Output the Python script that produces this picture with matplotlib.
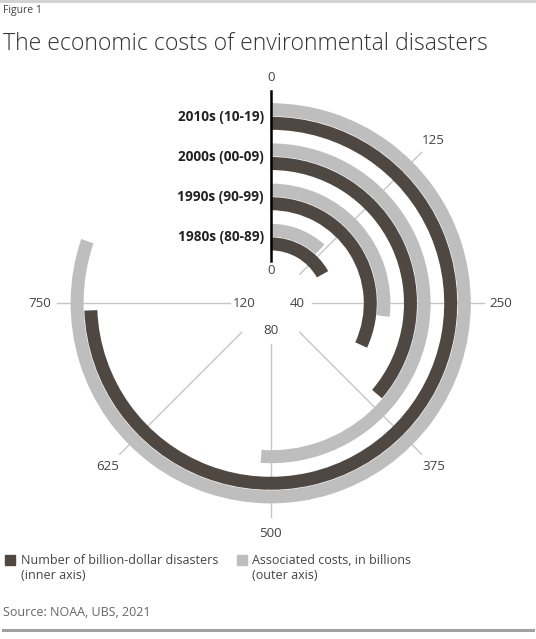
import numpy as np
import matplotlib.pyplot as plt
from matplotlib.patches import Rectangle

# data
decades = ['1980s (80-89)', '1990s (90-99)', '2000s (00-09)', '2010s (10-19)']
disasters = [27, 51, 58, 119]        # inner axis, full circle = 160
costs = [118, 268, 510, 802]         # outer axis, bn USD, full circle = 1000
inner_ticks = [0, 40, 80, 120]
outer_ticks = [0, 125, 250, 375, 500, 625, 750]
INNER_MAX = 160
OUTER_MAX = 1000

DARK = '#4f4842'
LIGHT = '#bebebe'
GRID = '#c6c6c6'
TXT = '#444444'

plt.rcParams['font.family'] = ['Open Sans', 'DejaVu Sans']

W, H = 536, 639
fig = plt.figure(figsize=(W / 100, H / 100), dpi=100)

# polar axes in pixel units: centre and radius
cx, cy, R = 270.7, 303.3, 240
ax = fig.add_axes([(cx - R) / W, (H - cy - R) / H, 2 * R / W, 2 * R / H], projection='polar')
ax.set_theta_zero_location('N')
ax.set_theta_direction(-1)
ax.set_ylim(0, R)
ax.set_axis_off()

# grid spokes
for t in outer_ticks[1:]:
    th = 2 * np.pi * t / OUTER_MAX
    ax.plot([th, th], [41, 213.5], color=GRID, lw=1, zorder=1)
ax.plot([0, 0], [42, 212.6], color='black', lw=1.8, zorder=5)

# bars
bw = 13
for i, (n, c) in enumerate(zip(disasters, costs)):
    r_gray = 73 + 40.2 * i
    r_dark = r_gray - 13.6
    ax.bar(0, bw, width=2 * np.pi * c / OUTER_MAX, bottom=r_gray - bw / 2,
           align='edge', color=LIGHT, lw=0, zorder=2)
    ax.bar(0, bw, width=2 * np.pi * n / INNER_MAX, bottom=r_dark - bw / 2,
           align='edge', color=DARK, lw=0, zorder=3)
    ax.annotate(decades[i], (0, (r_gray + r_dark) / 2), xytext=(-5, 0),
                textcoords='offset points', ha='right', va='center',
                fontsize=9.8, fontweight='bold', color='#222222', zorder=6)

# tick labels
for t in inner_ticks:
    th = 2 * np.pi * t / INNER_MAX
    ax.text(th, 33 if t == 0 else 27, str(t), ha='center', va='center',
            fontsize=9.6, color=TXT)
for t in outer_ticks:
    th = 2 * np.pi * t / OUTER_MAX
    ax.text(th, 226 if t == 0 else 230.5, str(t), ha='center', va='center',
            fontsize=9.6, color=TXT)


def px(x, y):
    return x / W, 1 - y / H


# header
fig.add_artist(plt.Line2D([0, 1], [1 - 1 / H, 1 - 1 / H], color='#d0d0d0', lw=2))
fig.text(*px(3, 10), 'Figure 1', fontsize=7.5, color='#444444', va='center')
fig.text(*px(3, 44), 'The economic costs of environmental disasters',
         fontsize=16.6, fontweight='light', color='#333333', va='center')

# legend
x0, y0 = px(5, 565)
fig.add_artist(Rectangle((x0, y0), 10 / W, 10 / H, transform=fig.transFigure, color=DARK))
x0, y0 = px(237, 565)
fig.add_artist(Rectangle((x0, y0), 10 / W, 10 / H, transform=fig.transFigure, color=LIGHT))
fig.text(*px(21, 568), 'Number of billion-dollar disasters\n(inner axis)',
         fontsize=9, color=TXT, va='center', linespacing=1.15)
fig.text(*px(252, 568), 'Associated costs, in billions\n(outer axis)',
         fontsize=9, color=TXT, va='center', linespacing=1.15)

fig.text(*px(3, 612), 'Source: NOAA, UBS, 2021', fontsize=9, color='#666666', va='center')
fig.add_artist(plt.Line2D([3 / W, 533 / W], [1 - 630 / H] * 2,
                          color='#a0a0a0', lw=2.2))

fig.savefig('out.png', dpi=100)
